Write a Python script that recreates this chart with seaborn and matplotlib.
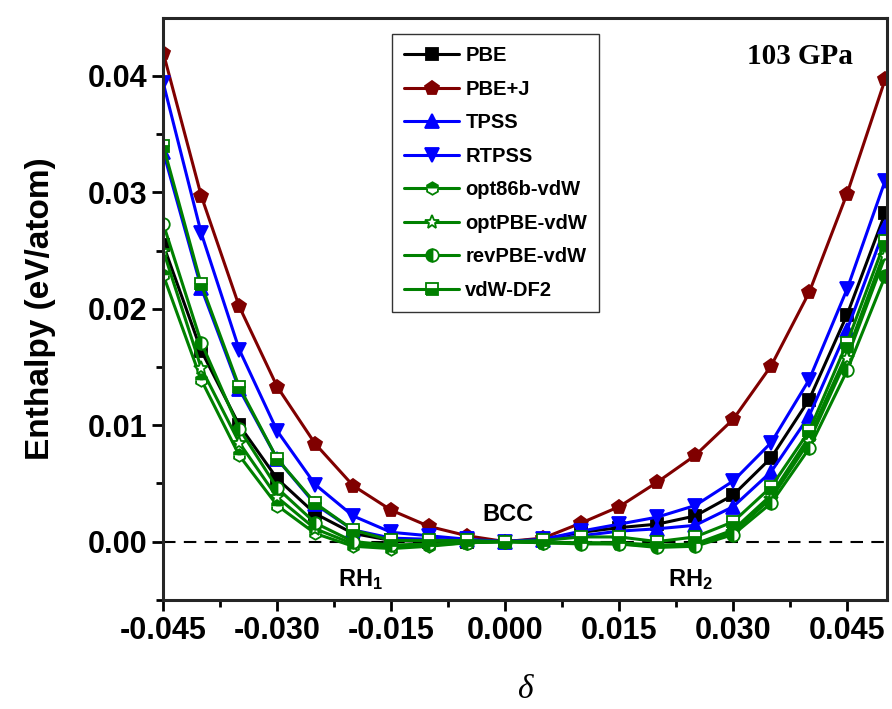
import numpy as np
import pandas as pd
import seaborn as sns
import matplotlib.pyplot as plt

# strain values and enthalpy (eV/atom)
delta = [-0.045, -0.040, -0.035, -0.030, -0.025, -0.020, -0.015, -0.010, -0.005, 0.000,
         0.005, 0.010, 0.015, 0.020, 0.025, 0.030, 0.035, 0.040, 0.045, 0.050]

pbe = [0.0255, 0.0164, 0.0100, 0.0054, 0.0024, 0.0007, 0.0001, 0.0000, 0.0000, 0.0,
       0.0002, 0.0008, 0.0012, 0.0015, 0.0022, 0.0040, 0.0072, 0.0122, 0.0195, 0.0282]
pbe_j = [0.0420, 0.0297, 0.0202, 0.0133, 0.0084, 0.0048, 0.0027, 0.0013, 0.0005, 0.0,
         0.0003, 0.0016, 0.0030, 0.0051, 0.0074, 0.0105, 0.0151, 0.0214, 0.0299, 0.0397]
tpss = [0.0335, 0.0218, 0.0131, 0.0071, 0.0032, 0.0010, 0.0003, 0.0002, 0.0001, 0.0,
        0.0001, 0.0005, 0.0009, 0.0011, 0.0014, 0.0030, 0.0060, 0.0108, 0.0182, 0.0270]
rtpss = [0.0394, 0.0265, 0.0165, 0.0095, 0.0049, 0.0022, 0.0008, 0.0005, 0.0002, 0.0,
         0.0002, 0.0009, 0.0015, 0.0021, 0.0031, 0.0052, 0.0085, 0.0139, 0.0217, 0.0310]
opt86b = [0.0229, 0.0139, 0.0074, 0.0031, 0.0007, -0.0004, -0.0006, -0.0004, -0.0001, 0.0,
          -0.0001, -0.0001, -0.0001, -0.0003, -0.0002, 0.0010, 0.0040, 0.0090, 0.0162, 0.0250]
optpbe = [0.0250, 0.0149, 0.0085, 0.0038, 0.0011, -0.0002, -0.0005, -0.0003, -0.0001, 0.0,
          -0.0001, -0.0001, -0.0002, -0.0004, -0.0003, 0.0008, 0.0037, 0.0086, 0.0158, 0.0245]
revpbe = [0.0273, 0.0171, 0.0097, 0.0046, 0.0016, 0.0000, -0.0003, -0.0002, -0.0001, 0.0,
          -0.0001, -0.0002, -0.0002, -0.0005, -0.0004, 0.0006, 0.0033, 0.0080, 0.0147, 0.0228]
vdw_df2 = [0.0340, 0.0221, 0.0133, 0.0071, 0.0033, 0.0010, 0.0001, 0.0001, 0.0001, 0.0,
           0.0001, 0.0004, 0.0004, 0.0000, 0.0004, 0.0017, 0.0047, 0.0095, 0.0171, 0.0258]

labels = ['PBE', 'PBE+J', 'TPSS', 'RTPSS', 'opt86b-vdW', 'optPBE-vdW', 'revPBE-vdW', 'vdW-DF2']
series = [pbe, pbe_j, tpss, rtpss, opt86b, optpbe, revpbe, vdw_df2]
colors = ['black', '#800000', '#0000ff', '#0000ff', '#008000', '#008000', '#008000', '#008000']
markers = ['s', 'p', '^', 'v', 'h', '*', 'o', 's']
fills = ['full', 'full', 'full', 'full', 'top', 'none', 'left', 'bottom']
sizes = [8, 10, 10, 10, 9, 10, 9, 8]

sns.set_style('ticks')
plt.rcParams['font.family'] = ['Liberation Sans', 'DejaVu Sans']
plt.rcParams['font.weight'] = 'bold'
plt.rcParams['text.color'] = 'black'
plt.rcParams['axes.labelcolor'] = 'black'
plt.rcParams['xtick.color'] = 'black'
plt.rcParams['ytick.color'] = 'black'
plt.rcParams['mathtext.fontset'] = 'custom'
plt.rcParams['mathtext.bf'] = 'Liberation Sans:bold'
plt.rcParams['mathtext.rm'] = 'Liberation Sans:bold'

fig, ax = plt.subplots(figsize=(8.92, 7.09), dpi=100)
fig.subplots_adjust(left=0.183, right=0.994, top=0.975, bottom=0.154)

ax.axhline(0, color='black', linestyle=(0, (6, 4)), linewidth=1.5, zorder=1)

for lab, vals, c, m, f, s in zip(labels, series, colors, markers, fills, sizes):
    df = pd.DataFrame({'delta': delta, 'H': vals})
    kw = dict(fillstyle=f, markerfacecoloralt='white')
    if f == 'none':
        kw = dict(markerfacecolor='white')
    sns.lineplot(data=df, x='delta', y='H', ax=ax, color=c, marker=m, markersize=s,
                 markeredgecolor=c, markeredgewidth=1.3, linewidth=2.2, label=lab, **kw)

ax.set_xlim(-0.045, 0.0502)
ax.set_ylim(-0.005, 0.045)
ax.set_xticks(np.arange(-0.045, 0.0451, 0.015))
ax.set_xticks(np.arange(-0.0375, 0.05, 0.015), minor=True)
ax.set_xticklabels(['-0.045', '-0.030', '-0.015', '0.000', '0.015', '0.030', '0.045'])
ax.set_yticks([0.00, 0.01, 0.02, 0.03, 0.04])
ax.set_yticks([-0.005, 0.005, 0.015, 0.025, 0.035], minor=True)
ax.set_yticklabels(['0.00', '0.01', '0.02', '0.03', '0.04'])
ax.tick_params(axis='both', which='major', labelsize=22, length=8, width=2, direction='out')
ax.tick_params(axis='both', which='minor', length=5, width=2, direction='out')
for sp in ax.spines.values():
    sp.set_linewidth(2.2)
    sp.set_visible(True)

ax.set_ylabel('Enthalpy (eV/atom)', fontsize=24, fontweight='bold', labelpad=23)
ax.set_xlabel('δ', fontsize=24, fontstyle='italic', fontweight='normal',
              family=['Liberation Serif', 'DejaVu Serif'], labelpad=21)

ax.text(0.953, 0.957, '103 GPa', transform=ax.transAxes, ha='right', va='top',
        fontsize=21, fontweight='bold', family=['Liberation Serif', 'DejaVu Serif'])
ax.text(0.0003, 0.0013, 'BCC', ha='center', va='bottom', fontsize=17, fontweight='bold')
ax.text(-0.019, -0.0022, r'$\mathbf{RH_1}$', ha='center', va='top', fontsize=17)
ax.text(0.0244, -0.0022, r'$\mathbf{RH_2}$', ha='center', va='top', fontsize=17)

leg = ax.legend(loc='upper left', bbox_to_anchor=(0.316, 0.972), frameon=True, fancybox=False,
                edgecolor='black', prop={'size': 14.5, 'weight': 'bold'}, handlelength=2.75,
                labelspacing=0.72, borderpad=0.6, handletextpad=0.3, borderaxespad=0)
leg.get_frame().set_linewidth(1.0)

fig.savefig('out.png', dpi=100)
